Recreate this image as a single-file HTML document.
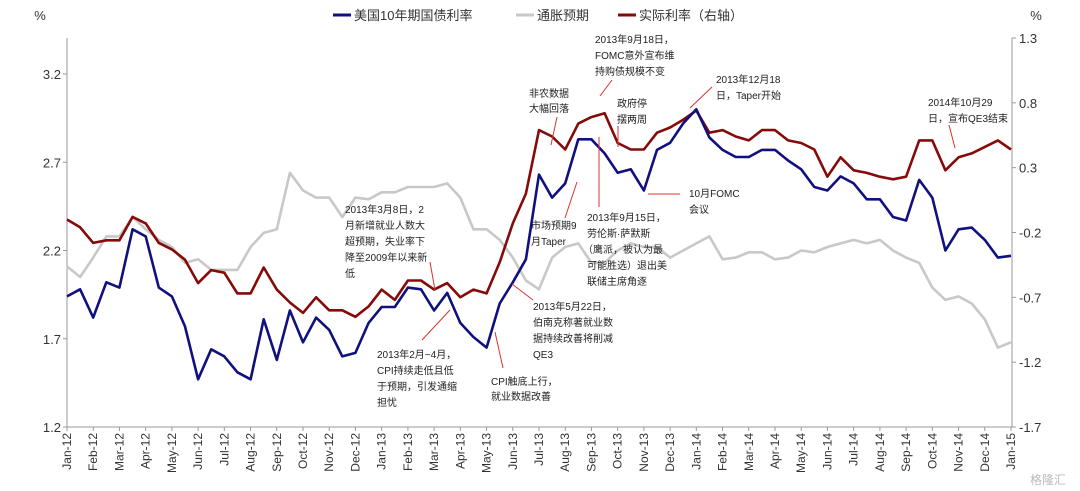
<!DOCTYPE html>
<html><head><meta charset="utf-8">
<style>
body{margin:0;background:#fff;}
svg{display:block;font-family:"Liberation Sans","Noto Sans CJK SC",sans-serif;}
.ann{font-size:10px;fill:#222;}
.tick{font-size:13px;fill:#333;}
.xl{font-size:12px;fill:#333;}
</style></head>
<body>
<svg id="chart" width="1080" height="491" viewBox="0 0 1080 491">
<text x="40" y="20" class="tick" text-anchor="middle">%</text>
<text x="1036" y="20" class="tick" text-anchor="middle">%</text>
<g font-size="13" fill="#333">
 <g><line x1="333" y1="15" x2="351" y2="15" stroke="#10107e" stroke-width="3"/><text x="354" y="20">美国10年期国债利率</text></g>
 <g><line x1="516" y1="15" x2="534" y2="15" stroke="#c8c8c8" stroke-width="3"/><text x="537" y="20">通胀预期</text></g>
 <g><line x1="618" y1="15" x2="636" y2="15" stroke="#850a0a" stroke-width="3"/><text x="639" y="20">实际利率（右轴）</text></g>
</g>
<g id="axes"></g>
<g id="series"></g>
<g stroke="#e03030" stroke-width="1" fill="none">
 <line x1="430" y1="262" x2="435" y2="290"/>
 <line x1="422" y1="340" x2="450" y2="310"/>
 <line x1="503" y1="368" x2="495" y2="332"/>
 <line x1="533" y1="300" x2="512" y2="284"/>
 <line x1="565" y1="218" x2="577" y2="182"/>
 <line x1="557" y1="117" x2="551" y2="145"/>
 <line x1="612" y1="80" x2="600" y2="96"/>
 <line x1="599" y1="207" x2="599" y2="137"/>
 <line x1="618" y1="126" x2="618" y2="147"/>
 <line x1="680" y1="194" x2="648" y2="194"/>
 <line x1="712" y1="87" x2="690" y2="108"/>
 <line x1="949" y1="125" x2="955" y2="148"/>
</g>
<g>
 <text class="ann" x="345" y="213"><tspan x="345">2013年3月8日，2</tspan><tspan x="345" dy="16">月新增就业人数大</tspan><tspan x="345" dy="16">超预期，失业率下</tspan><tspan x="345" dy="16">降至2009年以来新</tspan><tspan x="345" dy="16">低</tspan></text>
 <text class="ann" x="377" y="358"><tspan x="377">2013年2月~4月，</tspan><tspan x="377" dy="16">CPI持续走低且低</tspan><tspan x="377" dy="16">于预期，引发通缩</tspan><tspan x="377" dy="16">担忧</tspan></text>
 <text class="ann" x="491" y="385"><tspan x="491">CPI触底上行，</tspan><tspan x="491" dy="15">就业数据改善</tspan></text>
 <text class="ann" x="533" y="310"><tspan x="533">2013年5月22日，</tspan><tspan x="533" dy="16">伯南克称著就业数</tspan><tspan x="533" dy="16">据持续改善将削减</tspan><tspan x="533" dy="16">QE3</tspan></text>
 <text class="ann" x="531" y="229"><tspan x="531">市场预期9</tspan><tspan x="531" dy="16">月Taper</tspan></text>
 <text class="ann" x="529" y="97"><tspan x="529">非农数据</tspan><tspan x="529" dy="15">大幅回落</tspan></text>
 <text class="ann" x="595" y="43"><tspan x="595">2013年9月18日，</tspan><tspan x="595" dy="16">FOMC意外宣布维</tspan><tspan x="595" dy="16">持购债规模不变</tspan></text>
 <text class="ann" x="587" y="221"><tspan x="587">2013年9月15日，</tspan><tspan x="587" dy="16">劳伦斯·萨默斯</tspan><tspan x="583" dy="16">（鹰派，被认为最</tspan><tspan x="587" dy="16">可能胜选）退出美</tspan><tspan x="587" dy="16">联储主席角逐</tspan></text>
 <text class="ann" x="617" y="107"><tspan x="617">政府停</tspan><tspan x="617" dy="16">摆两周</tspan></text>
 <text class="ann" x="689" y="197"><tspan x="689">10月FOMC</tspan><tspan x="689" dy="16">会议</tspan></text>
 <text class="ann" x="716" y="83"><tspan x="716">2013年12月18</tspan><tspan x="716" dy="16">日，Taper开始</tspan></text>
 <text class="ann" x="928" y="106"><tspan x="928">2014年10月29</tspan><tspan x="928" dy="16">日，宣布QE3结束</tspan></text>
</g>
<text x="1048" y="484" font-size="12" fill="#bbb" text-anchor="middle">格隆汇</text>
</svg>
<script>
const months = ["Jan-12","Feb-12","Mar-12","Apr-12","May-12","Jun-12","Jul-12","Aug-12","Sep-12","Oct-12","Nov-12","Dec-12","Jan-13","Feb-13","Mar-13","Apr-13","May-13","Jun-13","Jul-13","Aug-13","Sep-13","Oct-13","Nov-13","Dec-13","Jan-14","Feb-14","Mar-14","Apr-14","May-14","Jun-14","Jul-14","Aug-14","Sep-14","Oct-14","Nov-14","Dec-14","Jan-15"];
const leftTicks = [1.2,1.7,2.2,2.7,3.2];
const rightTicks = [-1.7,-1.2,-0.7,-0.2,0.3,0.8,1.3];
// half-month samples, Jan-12 .. Jan-15
const us10y = [1.94,1.98,1.82,2.02,1.99,2.32,2.28,1.99,1.94,1.77,1.47,1.64,1.60,1.51,1.47,1.81,1.58,1.86,1.68,1.82,1.75,1.60,1.62,1.79,1.88,1.88,1.99,1.98,1.86,1.96,1.79,1.71,1.65,1.90,2.02,2.15,2.63,2.50,2.58,2.83,2.83,2.75,2.64,2.66,2.54,2.77,2.81,2.92,3.00,2.84,2.77,2.73,2.73,2.77,2.77,2.71,2.66,2.56,2.54,2.62,2.58,2.49,2.49,2.39,2.37,2.60,2.50,2.20,2.32,2.33,2.26,2.16,2.17];
const inflation = [2.11,2.05,2.16,2.28,2.28,2.39,2.32,2.26,2.22,2.13,2.15,2.09,2.09,2.09,2.22,2.30,2.32,2.64,2.54,2.50,2.50,2.39,2.50,2.49,2.53,2.53,2.56,2.56,2.56,2.58,2.50,2.32,2.32,2.26,2.16,2.03,1.98,2.16,2.22,2.24,2.13,2.13,2.20,2.24,2.22,2.22,2.16,2.20,2.24,2.28,2.15,2.16,2.19,2.19,2.15,2.16,2.20,2.19,2.22,2.24,2.26,2.24,2.26,2.20,2.16,2.13,1.99,1.92,1.94,1.90,1.81,1.65,1.68];
const realRate = [-0.10,-0.16,-0.28,-0.26,-0.26,-0.08,-0.13,-0.28,-0.33,-0.41,-0.59,-0.49,-0.51,-0.67,-0.67,-0.47,-0.64,-0.74,-0.82,-0.70,-0.80,-0.80,-0.85,-0.77,-0.64,-0.72,-0.57,-0.57,-0.64,-0.59,-0.70,-0.64,-0.67,-0.43,-0.13,0.10,0.59,0.54,0.44,0.64,0.69,0.72,0.49,0.44,0.44,0.57,0.61,0.67,0.74,0.57,0.59,0.54,0.51,0.59,0.59,0.51,0.49,0.44,0.23,0.38,0.28,0.26,0.23,0.21,0.23,0.51,0.51,0.28,0.38,0.41,0.46,0.51,0.44];

const NS="http://www.w3.org/2000/svg";
const X0=67,X1=1011,TOP=38,BOT=427;
const xM = m => X0 + (X1-X0)*m/36;
const yL = v => 74 + (3.2-v)*176.5;
const yR = v => 427 - (v+1.7)*(389/3);
function el(tag,attrs,parent,text){const e=document.createElementNS(NS,tag);for(const k in attrs)e.setAttribute(k,attrs[k]);if(text!==undefined)e.textContent=text;parent.appendChild(e);return e;}
const axes=document.getElementById('axes');
const la=el('line',{x1:X0,y1:TOP,x2:X0,y2:BOT,stroke:'#999'},axes);


const ra=el('line',{x1:X1+1,y1:TOP,x2:X1+1,y2:BOT,stroke:'#999'},axes);


const xa=el('line',{x1:X0,y1:BOT,x2:X1+1,y2:BOT,stroke:'#999'},axes);


leftTicks.forEach(v=>{
  el('line',{x1:X0-4,y1:yL(v),x2:X0,y2:yL(v),stroke:'#999'},axes);
  const t=el('text',{x:X0-6,y:yL(v)+5,'text-anchor':'end','class':'tick'},axes,v.toFixed(1));
  
  
});
rightTicks.forEach(v=>{
  el('line',{x1:X1+1,y1:yR(v),x2:X1+5,y2:yR(v),stroke:'#999'},axes);
  const t=el('text',{x:X1+8,y:yR(v)+5,'class':'tick'},axes,v.toFixed(1));
  
  
});
months.forEach((m,i)=>{
  const x=xM(i);
  el('line',{x1:x,y1:BOT,x2:x,y2:BOT+4,stroke:'#999'},axes);
  const t=el('text',{x:0,y:0,'text-anchor':'end','class':'xl',transform:`translate(${x+4},${BOT+6}) rotate(-90)`},axes,m);
  
  
});
const ser=document.getElementById('series');
function line(data,yf,color,name){
  const pts=data.map((v,i)=>xM(i*0.5).toFixed(1)+','+yf(v).toFixed(1)).join(' ');
  const p=el('polyline',{points:pts,fill:'none',stroke:color,'stroke-width':2.6,'stroke-linejoin':'round'},ser);
  
  
}
line(inflation,yL,'#c8c8c8','inflation-expectation-line');
line(realRate,yR,'#850a0a','real-rate-line');
line(us10y,yL,'#10107e','us10y-yield-line');
</script>
</body></html>
